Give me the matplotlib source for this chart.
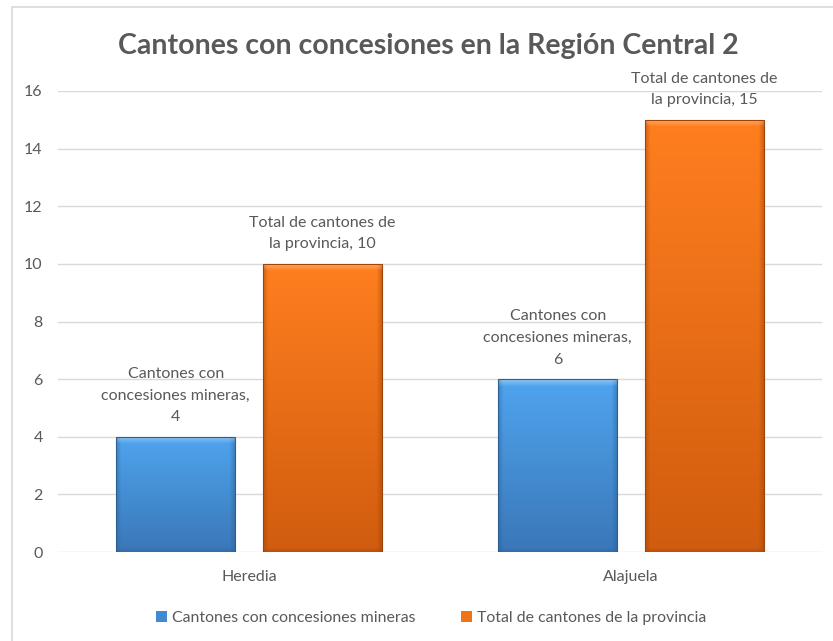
import numpy as np
import matplotlib
matplotlib.use("Agg")
import matplotlib.pyplot as plt
from matplotlib.patches import Rectangle
from matplotlib.colors import to_rgb

categories = ["Heredia", "Alajuela"]
series_names = ["Cantones con concesiones mineras", "Total de cantones de la provincia"]
mineras = [4, 6]
totales = [10, 15]
label_texts = ["Cantones con\nconcesiones mineras,", "Total de cantones de\nla provincia,"]
yticks = [0, 2, 4, 6, 8, 10, 12, 14, 16]
title = "Cantones con concesiones en la Región Central 2"

FONT = ["Lato", "DejaVu Sans"]
plt.rcParams["font.family"] = FONT
GRAY = "#595959"

W, H = 833, 641
fig = plt.figure(figsize=(W / 100, H / 100), dpi=100)
fig.patch.set_facecolor("white")

# chart border
fig.add_artist(Rectangle((12 / W, -0.01), 1.2, 1 - 7 / H + 0.01, transform=fig.transFigure,
                         fill=False, edgecolor="#d9d9d9", linewidth=1.2))

ax = fig.add_axes([58 / W, 1 - 552 / H, 764 / W, (552 - 91) / H])
ax.set_xlim(-0.5, 1.5)
ax.set_ylim(0, 16)
ax.set_yticks(yticks)
ax.set_yticklabels([str(t) for t in yticks])
ax.set_xticks(range(len(categories)))
ax.set_xticklabels(categories)
for s in ax.spines.values():
    s.set_visible(False)
ax.tick_params(axis="both", length=0, colors=GRAY, labelsize=11.5)
ax.tick_params(axis="y", pad=11)
ax.tick_params(axis="x", pad=13)
ax.grid(axis="y", color="#d9d9d9", linewidth=1)
ax.set_axisbelow(True)

x = np.arange(len(categories))
bw = 0.31
off = 0.192
b1 = ax.bar(x - off, mineras, bw, color="#3f8ad3", zorder=2, label=series_names[0])
b2 = ax.bar(x + off, totales, bw, color="#f07318", zorder=2, label=series_names[1])

fig.canvas.draw()


def grad_bar(rect, top, bottom, edge):
    x0, y0 = rect.get_x(), rect.get_y()
    w, h = rect.get_width(), rect.get_height()
    p0 = ax.transData.transform((x0, y0))
    p1 = ax.transData.transform((x0 + w, y0 + h))
    wp = max(int(round(p1[0] - p0[0])), 2)
    hp = max(int(round(p1[1] - p0[1])), 2)
    t = np.linspace(0, 1, hp)[:, None, None]
    top = np.array(to_rgb(top)); bottom = np.array(to_rgb(bottom)); edge = np.array(to_rgb(edge))
    img = top * (1 - t) + bottom * t
    img = np.repeat(img, wp, axis=1)
    cols = np.arange(wp)
    rows = np.arange(hp)
    side = np.clip(1 - np.minimum(cols, wp - 1 - cols) / 5.0, 0, 1)[None, :, None]
    img = img * (1 - 0.45 * side) + edge * 0.45 * side
    topb = np.clip(1 - rows / 7.0, 0, 1)[:, None, None]
    img = img * (1 - 0.35 * topb) + 1.0 * 0.35 * topb
    botb = np.clip(1 - (hp - 1 - rows) / 4.0, 0, 1)[:, None, None]
    img = img * (1 - 0.4 * botb) + edge * 0.4 * botb
    img = np.clip(img, 0, 1)
    im = ax.imshow(img, extent=[x0, x0 + w, y0, y0 + h], aspect="auto",
                   origin="upper", zorder=3, interpolation="bilinear")
    im.set_clip_path(rect)
    ax.add_patch(Rectangle((x0, y0), w, h, fill=False, edgecolor=edge, linewidth=0.8, zorder=4))


for r in b1:
    grad_bar(r, "#4fa4ee", "#3a77b8", "#2c5f94")
for r in b2:
    grad_bar(r, "#ff7f1f", "#d05c0e", "#9e4409")

ax.set_xlim(-0.5, 1.5)
ax.set_ylim(0, 16)

for i in range(len(categories)):
    ax.annotate(f"{label_texts[0]}\n{mineras[i]}", (x[i] - off, mineras[i]), xytext=(0, 9),
                textcoords="offset points", ha="center", va="bottom", color=GRAY,
                fontsize=11.5, linespacing=1.7, zorder=5)
    ax.annotate(f"{label_texts[1]} {totales[i]}", (x[i] + off, totales[i]), xytext=(0, 9),
                textcoords="offset points", ha="center", va="bottom", color=GRAY,
                fontsize=11.5, linespacing=1.7, zorder=5)

fig.text(428 / W, 1 - 46 / H, title, ha="center", va="center", fontsize=20.5,
         fontweight="bold", color=GRAY)

leg = fig.legend(handles=[b1, b2], labels=series_names, loc="center",
                 bbox_to_anchor=(431 / W, 1 - 618 / H), ncol=2, frameon=False,
                 fontsize=11.4, handlelength=0.7, handleheight=0.7, handletextpad=0.3,
                 columnspacing=2.9)
for t in leg.get_texts():
    t.set_color(GRAY)

fig.savefig("out.png", dpi=100)
